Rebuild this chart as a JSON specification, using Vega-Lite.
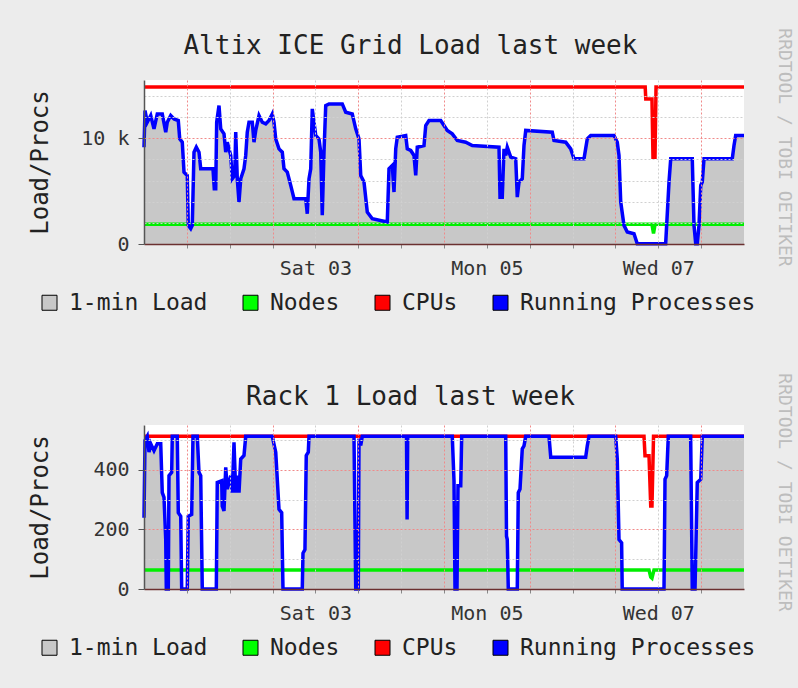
{
  "$schema": "https://vega.github.io/schema/vega-lite/v6.json",
  "background": "#ececec",
  "padding": {"left": 28, "top": 27, "right": 10, "bottom": 37},
  "config": {
    "font": "DejaVu Sans Mono",
    "view": {"fill": "#ffffff", "stroke": null},
    "title": {"font": "DejaVu Sans Mono", "fontSize": 26, "fontWeight": "normal", "color": "#222222"},
    "axis": {"labelFont": "DejaVu Sans Mono", "titleFont": "DejaVu Sans Mono", "labelColor": "#333333", "titleColor": "#222222", "titleFontWeight": "normal", "labelFontSize": 20, "titleFontSize": 24},
    "legend": {"orient": "none", "legendX": -106, "legendY": 211, "direction": "horizontal", "title": null, "symbolType": "square", "symbolSize": 225, "symbolStrokeColor": "#000000", "symbolStrokeWidth": 1, "symbolOpacity": 1, "labelFont": "DejaVu Sans Mono", "labelFontSize": 23, "labelColor": "#222222", "labelOffset": 8, "labelLimit": 0, "columnPadding": 31},
    "concat": {"spacing": 57}
  },
  "datasets": {
    "topProcs": [
      {"t":"2012-03-01T12:00","v":9150},{"t":"2012-03-01T12:17","v":12610},{"t":"2012-03-01T12:55","v":11510},{"t":"2012-03-01T13:53","v":12140},{"t":"2012-03-01T14:48","v":10880},{"t":"2012-03-01T15:43","v":12290},{"t":"2012-03-01T17:07","v":12290},{"t":"2012-03-01T18:05","v":10570},{"t":"2012-03-01T18:31","v":11510},{"t":"2012-03-01T19:29","v":12140},{"t":"2012-03-01T20:24","v":11820},{"t":"2012-03-01T21:36","v":11670},{"t":"2012-03-01T22:00","v":9930},{"t":"2012-03-01T22:43","v":9620},{"t":"2012-03-01T23:12","v":6790},
      {"t":"2012-03-02T00:07","v":6480},{"t":"2012-03-02T00:24","v":1760},{"t":"2012-03-02T01:05","v":1450},{"t":"2012-03-02T01:31","v":1760},{"t":"2012-03-02T02:00","v":8680},{"t":"2012-03-02T02:39","v":9150},{"t":"2012-03-02T03:24","v":8680},{"t":"2012-03-02T03:53","v":7110},{"t":"2012-03-02T07:19","v":7110},{"t":"2012-03-02T07:41","v":5220},{"t":"2012-03-02T08:05","v":5220},{"t":"2012-03-02T08:21","v":11510},{"t":"2012-03-02T09:00","v":13080},{"t":"2012-03-02T09:29","v":10880},{"t":"2012-03-02T10:24","v":10410},{"t":"2012-03-02T10:53","v":8680},{"t":"2012-03-02T11:19","v":9620},{"t":"2012-03-02T12:17","v":8370},{"t":"2012-03-02T12:43","v":6160},{"t":"2012-03-02T13:24","v":6480},{"t":"2012-03-02T13:41","v":10570},{"t":"2012-03-02T14:07","v":6160},{"t":"2012-03-02T14:36","v":3960},{"t":"2012-03-02T15:05","v":6160},{"t":"2012-03-02T16:00","v":7110},{"t":"2012-03-02T16:29","v":8370},{"t":"2012-03-02T16:55","v":10570},{"t":"2012-03-02T17:24","v":11510},{"t":"2012-03-02T18:19","v":11510},{"t":"2012-03-02T18:48","v":9620},{"t":"2012-03-02T19:17","v":10730},{"t":"2012-03-02T20:12","v":12140},{"t":"2012-03-02T21:07","v":11510},{"t":"2012-03-02T22:05","v":11350},{"t":"2012-03-02T23:00","v":11670},{"t":"2012-03-02T23:55","v":12290},
      {"t":"2012-03-03T00:24","v":11510},{"t":"2012-03-03T00:53","v":9930},{"t":"2012-03-03T01:48","v":8990},{"t":"2012-03-03T02:43","v":8680},{"t":"2012-03-03T03:12","v":7110},{"t":"2012-03-03T04:07","v":6790},{"t":"2012-03-03T05:05","v":5540},{"t":"2012-03-03T06:00","v":4280},{"t":"2012-03-03T09:17","v":4280},{"t":"2012-03-03T09:43","v":2860},{"t":"2012-03-03T10:12","v":6160},{"t":"2012-03-03T10:41","v":7110},{"t":"2012-03-03T11:07","v":12770},{"t":"2012-03-03T12:05","v":10250},{"t":"2012-03-03T13:00","v":9930},{"t":"2012-03-03T13:29","v":8680},{"t":"2012-03-03T13:55","v":2710},{"t":"2012-03-03T14:24","v":8680},{"t":"2012-03-03T14:53","v":13080},{"t":"2012-03-03T15:48","v":13240},{"t":"2012-03-03T19:31","v":13240},{"t":"2012-03-03T20:29","v":12450},{"t":"2012-03-03T22:19","v":12290},{"t":"2012-03-03T23:17","v":10880},
      {"t":"2012-03-04T00:12","v":9930},{"t":"2012-03-04T00:41","v":6480},{"t":"2012-03-04T01:36","v":5850},{"t":"2012-03-04T02:31","v":3020},{"t":"2012-03-04T03:55","v":2390},{"t":"2012-03-04T08:07","v":2080},{"t":"2012-03-04T08:36","v":7110},{"t":"2012-03-04T09:31","v":7420},{"t":"2012-03-04T10:00","v":4910},{"t":"2012-03-04T10:29","v":8990},{"t":"2012-03-04T10:55","v":10090},{"t":"2012-03-04T13:17","v":10250},{"t":"2012-03-04T13:43","v":8990},{"t":"2012-03-04T14:41","v":8840},{"t":"2012-03-04T15:36","v":8370},{"t":"2012-03-04T16:05","v":6480},{"t":"2012-03-04T16:31","v":9150},{"t":"2012-03-04T18:24","v":9310},{"t":"2012-03-04T18:53","v":11200},{"t":"2012-03-04T19:48","v":11670},{"t":"2012-03-04T23:05","v":11670},
      {"t":"2012-03-05T00:00","v":11200},{"t":"2012-03-05T00:55","v":10730},{"t":"2012-03-05T02:19","v":10410},{"t":"2012-03-05T03:43","v":9780},{"t":"2012-03-05T06:05","v":9620},{"t":"2012-03-05T07:55","v":9310},{"t":"2012-03-05T15:24","v":9150},{"t":"2012-03-05T15:41","v":4430},{"t":"2012-03-05T16:19","v":4430},{"t":"2012-03-05T16:48","v":8990},{"t":"2012-03-05T17:17","v":8370},{"t":"2012-03-05T17:43","v":9150},{"t":"2012-03-05T18:41","v":8210},{"t":"2012-03-05T20:05","v":8050},{"t":"2012-03-05T20:31","v":4430},{"t":"2012-03-05T21:00","v":5850},{"t":"2012-03-05T21:55","v":6160},{"t":"2012-03-05T22:24","v":9310},{"t":"2012-03-05T22:53","v":10730},
      {"t":"2012-03-06T06:19","v":10570},{"t":"2012-03-06T06:48","v":9780},{"t":"2012-03-06T10:05","v":9620},{"t":"2012-03-06T11:29","v":8990},{"t":"2012-03-06T12:24","v":8050},{"t":"2012-03-06T15:12","v":8050},{"t":"2012-03-06T16:07","v":9930},{"t":"2012-03-06T17:05","v":10250},{"t":"2012-03-06T23:36","v":10250},
      {"t":"2012-03-07T00:31","v":9620},{"t":"2012-03-07T01:00","v":8370},{"t":"2012-03-07T01:29","v":3960},{"t":"2012-03-07T02:24","v":1760},{"t":"2012-03-07T03:19","v":1130},{"t":"2012-03-07T05:12","v":970},{"t":"2012-03-07T06:07","v":30},{"t":"2012-03-07T14:04","v":30},{"t":"2012-03-07T15:00","v":5850},{"t":"2012-03-07T15:29","v":8050},{"t":"2012-03-07T21:31","v":8050},{"t":"2012-03-07T22:00","v":1760},{"t":"2012-03-07T22:29","v":30},{"t":"2012-03-07T22:55","v":30},{"t":"2012-03-07T23:24","v":1760},{"t":"2012-03-07T23:53","v":5540},
      {"t":"2012-03-08T00:19","v":5850},{"t":"2012-03-08T00:48","v":8050},{"t":"2012-03-08T08:43","v":8050},{"t":"2012-03-08T09:12","v":9310},{"t":"2012-03-08T09:40","v":10250},{"t":"2012-03-08T12:00","v":10250}
    ],
    "topNodes": [
      {"t":"2012-03-01T12:00","v":1856},{"t":"2012-03-07T10:14","v":1856},{"t":"2012-03-07T10:40","v":1000},{"t":"2012-03-07T11:05","v":1856},{"t":"2012-03-08T12:00","v":1856}
    ],
    "topCpus": [
      {"t":"2012-03-01T12:00","v":14848},{"t":"2012-03-07T08:20","v":14848},{"t":"2012-03-07T08:30","v":13700},{"t":"2012-03-07T10:14","v":13700},{"t":"2012-03-07T10:31","v":8200},{"t":"2012-03-07T11:05","v":8200},{"t":"2012-03-07T11:22","v":14848},{"t":"2012-03-08T12:00","v":14848}
    ],
    "rackProcs": [
      {"t":"2012-03-01T12:00","v":239},{"t":"2012-03-01T12:17","v":498},{"t":"2012-03-01T12:55","v":512},{"t":"2012-03-01T13:24","v":459},{"t":"2012-03-01T13:53","v":487},{"t":"2012-03-01T14:48","v":464},{"t":"2012-03-01T15:43","v":487},{"t":"2012-03-01T16:41","v":487},{"t":"2012-03-01T17:07","v":323},{"t":"2012-03-01T17:36","v":307},{"t":"2012-03-01T18:05","v":166},{"t":"2012-03-01T18:15","v":0},{"t":"2012-03-01T18:48","v":0},{"t":"2012-03-01T19:00","v":380},{"t":"2012-03-01T19:45","v":391},{"t":"2012-03-01T19:55","v":512},{"t":"2012-03-01T21:19","v":512},{"t":"2012-03-01T21:36","v":256},{"t":"2012-03-01T22:17","v":244},{"t":"2012-03-01T22:33","v":0},
      {"t":"2012-03-02T00:07","v":0},{"t":"2012-03-02T00:24","v":244},{"t":"2012-03-02T01:21","v":250},{"t":"2012-03-02T01:43","v":512},{"t":"2012-03-02T02:55","v":512},{"t":"2012-03-02T03:24","v":391},{"t":"2012-03-02T03:53","v":380},{"t":"2012-03-02T04:19","v":0},{"t":"2012-03-02T08:15","v":0},{"t":"2012-03-02T08:31","v":357},{"t":"2012-03-02T09:45","v":363},{"t":"2012-03-02T09:55","v":278},{"t":"2012-03-02T10:24","v":262},{"t":"2012-03-02T10:53","v":408},{"t":"2012-03-02T11:19","v":335},{"t":"2012-03-02T12:17","v":380},{"t":"2012-03-02T12:43","v":323},{"t":"2012-03-02T13:12","v":492},{"t":"2012-03-02T13:41","v":323},{"t":"2012-03-02T14:07","v":380},{"t":"2012-03-02T14:36","v":323},{"t":"2012-03-02T15:05","v":436},{"t":"2012-03-02T16:00","v":448},{"t":"2012-03-02T16:29","v":512},{"t":"2012-03-02T23:55","v":512},
      {"t":"2012-03-03T00:53","v":459},{"t":"2012-03-03T01:48","v":267},{"t":"2012-03-03T02:33","v":256},{"t":"2012-03-03T02:55","v":0},{"t":"2012-03-03T08:19","v":0},{"t":"2012-03-03T08:31","v":120},{"t":"2012-03-03T09:04","v":132},{"t":"2012-03-03T09:26","v":448},{"t":"2012-03-03T10:00","v":459},{"t":"2012-03-03T10:12","v":512},{"t":"2012-03-03T22:48","v":512},{"t":"2012-03-03T23:17","v":0},
      {"t":"2012-03-04T00:00","v":0},{"t":"2012-03-04T00:12","v":505},{"t":"2012-03-04T00:41","v":481},{"t":"2012-03-04T01:07","v":512},{"t":"2012-03-04T13:30","v":512},{"t":"2012-03-04T13:40","v":233},{"t":"2012-03-04T13:50","v":512},
      {"t":"2012-03-05T02:19","v":512},{"t":"2012-03-05T02:48","v":363},{"t":"2012-03-05T03:05","v":0},{"t":"2012-03-05T03:38","v":0},{"t":"2012-03-05T03:55","v":346},{"t":"2012-03-05T04:41","v":346},{"t":"2012-03-05T04:57","v":512},{"t":"2012-03-05T17:17","v":512},{"t":"2012-03-05T17:30","v":177},{"t":"2012-03-05T17:43","v":166},{"t":"2012-03-05T18:00","v":0},{"t":"2012-03-05T20:31","v":0},{"t":"2012-03-05T20:48","v":323},{"t":"2012-03-05T21:17","v":335},{"t":"2012-03-05T21:55","v":470},{"t":"2012-03-05T22:24","v":480},{"t":"2012-03-05T22:53","v":512},
      {"t":"2012-03-06T05:24","v":512},{"t":"2012-03-06T05:53","v":442},{"t":"2012-03-06T15:40","v":442},{"t":"2012-03-06T16:07","v":480},{"t":"2012-03-06T16:36","v":512},
      {"t":"2012-03-07T00:05","v":512},{"t":"2012-03-07T00:31","v":436},{"t":"2012-03-07T01:00","v":166},{"t":"2012-03-07T01:44","v":155},{"t":"2012-03-07T01:54","v":0},{"t":"2012-03-07T13:36","v":0},{"t":"2012-03-07T13:53","v":368},{"t":"2012-03-07T14:21","v":380},{"t":"2012-03-07T14:48","v":512},{"t":"2012-03-07T21:04","v":512},{"t":"2012-03-07T21:31","v":0},{"t":"2012-03-07T22:17","v":0},{"t":"2012-03-07T22:55","v":357},{"t":"2012-03-07T23:53","v":368},
      {"t":"2012-03-08T00:19","v":512},{"t":"2012-03-08T12:00","v":512}
    ],
    "rackNodes": [
      {"t":"2012-03-01T12:00","v":64},{"t":"2012-03-07T09:24","v":64},{"t":"2012-03-07T09:53","v":40},{"t":"2012-03-07T10:14","v":36},{"t":"2012-03-07T10:48","v":64},{"t":"2012-03-08T12:00","v":64}
    ],
    "rackCpus": [
      {"t":"2012-03-01T12:00","v":512},{"t":"2012-03-07T08:00","v":512},{"t":"2012-03-07T08:17","v":447},{"t":"2012-03-07T09:24","v":447},{"t":"2012-03-07T09:53","v":278},{"t":"2012-03-07T10:14","v":278},{"t":"2012-03-07T10:40","v":512},{"t":"2012-03-08T12:00","v":512}
    ]
  },
  "resolve": {"scale": {"x": "independent", "y": "independent", "fill": "independent"}, "legend": {"fill": "independent"}},
  "vconcat": [
    {
      "title": {"text": "Altix ICE Grid Load last week", "frame": "bounds", "anchor": "middle", "offset": -31},
      "width": 600,
      "height": 164,
      "resolve": {"axis": {"y": "independent"}},
      "layer": [
        {
          "data": {"name": "topProcs"},
          "mark": {"type": "area", "color": "#c8c8c8", "opacity": 1},
          "encoding": {
            "x": {"field": "t", "type": "temporal", "scale": {"domain": [{"year": 2012, "month": 3, "date": 1, "hours": 12}, {"year": 2012, "month": 3, "date": 8, "hours": 12}], "nice": false},
              "axis": {"title": null, "values": [{"year":2012,"month":3,"date":2,"hours":0},{"year":2012,"month":3,"date":2,"hours":12},{"year":2012,"month":3,"date":3,"hours":0},{"year":2012,"month":3,"date":3,"hours":12},{"year":2012,"month":3,"date":4,"hours":0},{"year":2012,"month":3,"date":4,"hours":12},{"year":2012,"month":3,"date":5,"hours":0},{"year":2012,"month":3,"date":5,"hours":12},{"year":2012,"month":3,"date":6,"hours":0},{"year":2012,"month":3,"date":6,"hours":12},{"year":2012,"month":3,"date":7,"hours":0},{"year":2012,"month":3,"date":7,"hours":12},{"year":2012,"month":3,"date":8,"hours":0}],
                "labelExpr": "hours(datum.value) == 12 && (date(datum.value) == 3 || date(datum.value) == 5 || date(datum.value) == 7) ? timeFormat(datum.value, '%a %d') : ''",
                "labelOverlap": false, "labelFlush": false, "labelAngle": 0, "labelPadding": 10,
                "gridColor": {"condition": {"test": "hours(datum.value) == 0", "value": "#f08a8a"}, "value": "#d0d0d0"},
                "gridDash": [2, 2], "domainColor": "#6b3030", "domainWidth": 1.5, "tickColor": "#888888", "tickSize": 4, "zindex": 1}},
            "y": {"field": "v", "type": "quantitative", "scale": {"domain": [0, 15500], "nice": false},
              "axis": {"title": "Load/Procs", "titlePadding": 28, "values": [0, 2000, 4000, 6000, 8000, 10000, 12000, 14000],
                "labelExpr": "datum.value == 0 ? '0' : datum.value == 10000 ? '10 k' : ''", "labelPadding": 9,
                "gridColor": {"condition": {"test": "datum.value == 10000", "value": "#f08a8a"}, "value": "#d0d0d0"},
                "gridOpacity": {"condition": {"test": "datum.value == 0", "value": 0}, "value": 1},
                "tickOpacity": {"condition": {"test": "datum.value == 0 || datum.value == 10000", "value": 1}, "value": 0},
                "gridDash": [2, 2], "domainColor": "#555555", "domainWidth": 1.5, "tickColor": "#555555", "tickSize": 6, "zindex": 1}},
            "fill": {"datum": "1-min Load", "type": "nominal", "scale": {"domain": ["1-min Load", "Nodes", "CPUs", "Running Processes"], "range": ["#c8c8c8", "#00ff00", "#ff0000", "#0000ff"]}}
          }
        },
        {
          "data": {"name": "topNodes"},
          "mark": {"type": "line", "color": "#00ee00", "strokeWidth": 3.5},
          "encoding": {
            "x": {"field": "t", "type": "temporal", "scale": {"domain": [{"year": 2012, "month": 3, "date": 1, "hours": 12}, {"year": 2012, "month": 3, "date": 8, "hours": 12}], "nice": false}},
            "y": {"field": "v", "type": "quantitative", "scale": {"domain": [0, 15500], "nice": false}, "axis": null}
          }
        },
        {
          "data": {"name": "topCpus"},
          "mark": {"type": "line", "color": "#ff0000", "strokeWidth": 3.5},
          "encoding": {
            "x": {"field": "t", "type": "temporal", "scale": {"domain": [{"year": 2012, "month": 3, "date": 1, "hours": 12}, {"year": 2012, "month": 3, "date": 8, "hours": 12}], "nice": false}},
            "y": {"field": "v", "type": "quantitative", "scale": {"domain": [0, 15500], "nice": false}, "axis": null}
          }
        },
        {
          "data": {"name": "topProcs"},
          "mark": {"type": "line", "color": "#0000ff", "strokeWidth": 3.5},
          "encoding": {
            "x": {"field": "t", "type": "temporal", "scale": {"domain": [{"year": 2012, "month": 3, "date": 1, "hours": 12}, {"year": 2012, "month": 3, "date": 8, "hours": 12}], "nice": false}},
            "y": {"field": "v", "type": "quantitative", "scale": {"domain": [0, 15500], "nice": false},
              "axis": {"orient": "right", "labels": false, "ticks": false, "domain": false, "grid": false, "title": "RRDTOOL / TOBI OETIKER", "titleAngle": 90, "titleColor": "#bdbdbd", "titleFontSize": 18, "titlePadding": 30, "titleY": 67}}
          }
        }
      ]
    },
    {
      "title": {"text": "Rack 1 Load last week", "frame": "bounds", "anchor": "middle", "offset": -37},
      "width": 600,
      "height": 164,
      "resolve": {"axis": {"y": "independent"}},
      "layer": [
        {
          "data": {"name": "rackProcs"},
          "mark": {"type": "area", "color": "#c8c8c8", "opacity": 1},
          "encoding": {
            "x": {"field": "t", "type": "temporal", "scale": {"domain": [{"year": 2012, "month": 3, "date": 1, "hours": 12}, {"year": 2012, "month": 3, "date": 8, "hours": 12}], "nice": false},
              "axis": {"title": null, "values": [{"year":2012,"month":3,"date":2,"hours":0},{"year":2012,"month":3,"date":2,"hours":12},{"year":2012,"month":3,"date":3,"hours":0},{"year":2012,"month":3,"date":3,"hours":12},{"year":2012,"month":3,"date":4,"hours":0},{"year":2012,"month":3,"date":4,"hours":12},{"year":2012,"month":3,"date":5,"hours":0},{"year":2012,"month":3,"date":5,"hours":12},{"year":2012,"month":3,"date":6,"hours":0},{"year":2012,"month":3,"date":6,"hours":12},{"year":2012,"month":3,"date":7,"hours":0},{"year":2012,"month":3,"date":7,"hours":12},{"year":2012,"month":3,"date":8,"hours":0}],
                "labelExpr": "hours(datum.value) == 12 && (date(datum.value) == 3 || date(datum.value) == 5 || date(datum.value) == 7) ? timeFormat(datum.value, '%a %d') : ''",
                "labelOverlap": false, "labelFlush": false, "labelAngle": 0, "labelPadding": 10,
                "gridColor": {"condition": {"test": "hours(datum.value) == 0", "value": "#f08a8a"}, "value": "#d0d0d0"},
                "gridDash": [2, 2], "domainColor": "#6b3030", "domainWidth": 1.5, "tickColor": "#888888", "tickSize": 4, "zindex": 1}},
            "y": {"field": "v", "type": "quantitative", "scale": {"domain": [0, 550], "nice": false},
              "axis": {"title": "Load/Procs", "titlePadding": 40, "values": [0, 100, 200, 300, 400, 500],
                "labelExpr": "datum.value % 200 == 0 ? format(datum.value, 'd') : ''", "labelPadding": 9,
                "gridColor": {"condition": {"test": "datum.value % 200 == 0", "value": "#f08a8a"}, "value": "#d0d0d0"},
                "gridOpacity": {"condition": {"test": "datum.value == 0", "value": 0}, "value": 1},
                "tickOpacity": {"condition": {"test": "datum.value % 200 == 0", "value": 1}, "value": 0},
                "gridDash": [2, 2], "domainColor": "#555555", "domainWidth": 1.5, "tickColor": "#555555", "tickSize": 6, "zindex": 1}},
            "fill": {"datum": "1-min Load", "type": "nominal", "scale": {"domain": ["1-min Load", "Nodes", "CPUs", "Running Processes"], "range": ["#c8c8c8", "#00ff00", "#ff0000", "#0000ff"]}}
          }
        },
        {
          "data": {"name": "rackNodes"},
          "mark": {"type": "line", "color": "#00ee00", "strokeWidth": 3.5},
          "encoding": {
            "x": {"field": "t", "type": "temporal", "scale": {"domain": [{"year": 2012, "month": 3, "date": 1, "hours": 12}, {"year": 2012, "month": 3, "date": 8, "hours": 12}], "nice": false}},
            "y": {"field": "v", "type": "quantitative", "scale": {"domain": [0, 550], "nice": false}, "axis": null}
          }
        },
        {
          "data": {"name": "rackCpus"},
          "mark": {"type": "line", "color": "#ff0000", "strokeWidth": 3.5},
          "encoding": {
            "x": {"field": "t", "type": "temporal", "scale": {"domain": [{"year": 2012, "month": 3, "date": 1, "hours": 12}, {"year": 2012, "month": 3, "date": 8, "hours": 12}], "nice": false}},
            "y": {"field": "v", "type": "quantitative", "scale": {"domain": [0, 550], "nice": false}, "axis": null}
          }
        },
        {
          "data": {"name": "rackProcs"},
          "mark": {"type": "line", "color": "#0000ff", "strokeWidth": 3.5},
          "encoding": {
            "x": {"field": "t", "type": "temporal", "scale": {"domain": [{"year": 2012, "month": 3, "date": 1, "hours": 12}, {"year": 2012, "month": 3, "date": 8, "hours": 12}], "nice": false}},
            "y": {"field": "v", "type": "quantitative", "scale": {"domain": [0, 550], "nice": false},
              "axis": {"orient": "right", "labels": false, "ticks": false, "domain": false, "grid": false, "title": "RRDTOOL / TOBI OETIKER", "titleAngle": 90, "titleColor": "#bdbdbd", "titleFontSize": 18, "titlePadding": 30, "titleY": 67}}
          }
        }
      ]
    }
  ]
}
